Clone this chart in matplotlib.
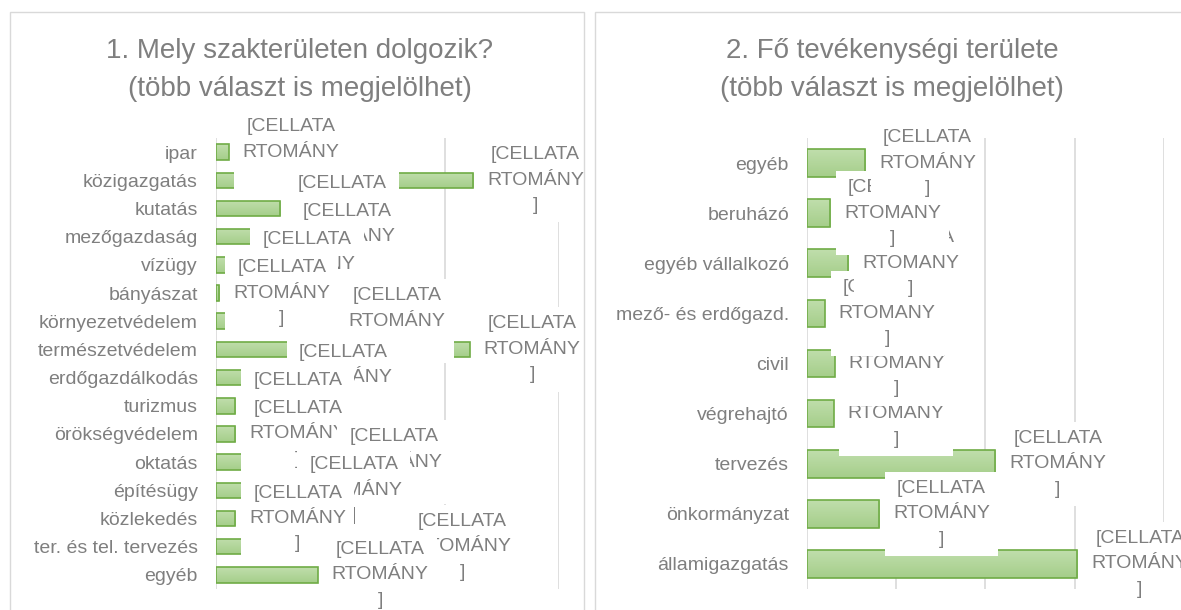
import matplotlib
matplotlib.use("Agg")
import matplotlib.pyplot as plt
from matplotlib.patches import Rectangle
from matplotlib.colors import LinearSegmentedColormap
import numpy as np

# 1. chart - categories from top to bottom (data order)
left_title = "1. Mely szakterületen dolgozik?\n(több választ is megjelölhet)"
left_cats = ["ipar", "közigazgatás", "kutatás", "mezőgazdaság", "vízügy",
             "bányászat", "környezetvédelem", "természetvédelem",
             "erdőgazdálkodás", "turizmus", "örökségvédelem", "oktatás",
             "építésügy", "közlekedés", "ter. és tel. tervezés", "egyéb"]
left_vals = [1.1, 22.5, 5.6, 6.0, 2.5, 0.3, 10.4, 22.2,
             5.7, 1.7, 1.7, 10.1, 6.6, 1.7, 16.1, 8.9]

# 2. chart - categories from bottom to top (data order)
right_title = "2. Fő tevékenységi területe\n(több választ is megjelölhet)"
right_cats = ["államigazgatás", "önkormányzat", "tervezés", "végrehajtó",
              "civil", "mező- és erdőgazd.", "egyéb vállalkozó", "beruházó",
              "egyéb"]
right_vals = [30.3, 8.1, 21.1, 3.0, 3.1, 2.0, 4.6, 2.6, 6.5]

# broken excel data label (cell range placeholder)
label_text = "[CELLATA\nRTOMÁNY\n]"

W, H = 1181, 610
GREY = "#7f7f7f"
GRID = "#d9d9d9"
BAR_H = 0.55
green = LinearSegmentedColormap.from_list("g", ["#c0deac", "#a5ce8a"])

plt.rcParams["font.family"] = ["Liberation Sans", "DejaVu Sans"]

fig = plt.figure(figsize=(W / 100, H / 100), dpi=100)


def px_axes(x0, y0, x1, y1):
    return fig.add_axes([x0 / W, 1 - y1 / H, (x1 - x0) / W, (y1 - y0) / H])


def draw_panel(ax, cats, vals, xmax, top_down):
    y = np.arange(len(cats))
    bars = ax.barh(y, vals, height=BAR_H, facecolor="none",
                   edgecolor="#6fac46", linewidth=1.2, zorder=3)
    # light vertical gradient fill like the excel bars
    grad = np.linspace(0, 1, 32).reshape(-1, 1)
    for b, yi, v in zip(bars, y, vals):
        top = yi - BAR_H / 2 if top_down else yi + BAR_H / 2
        bot = yi + BAR_H / 2 if top_down else yi - BAR_H / 2
        im = ax.imshow(grad, extent=(0, v, bot, top), cmap=green,
                       aspect="auto", origin="upper", zorder=2)
        im.set_clip_path(b)
    ax.set_yticks(y, cats)
    ax.set_xlim(0, xmax)
    ax.set_xticks(np.arange(0, xmax + 1, 10))
    ax.xaxis.grid(True, color=GRID, linewidth=1.2)
    ax.set_axisbelow(True)
    ax.tick_params(axis="x", length=0, labelbottom=False)
    ax.tick_params(axis="y", length=0, pad=13, labelsize=14, labelcolor=GREY)
    for s in ax.spines.values():
        s.set_visible(False)
    if top_down:
        ax.set_ylim(len(cats) - 0.5, -0.5)
    else:
        ax.set_ylim(-0.5, len(cats) - 0.5)
    # labels are drawn in data order, later ones cover earlier ones
    for yi, v in zip(y, vals):
        ax.annotate(label_text, xy=(v, yi), xytext=(10, 0),
                    textcoords="offset points", ha="left", va="center",
                    multialignment="center", fontsize=14, color=GREY,
                    linespacing=1.65, zorder=5,
                    bbox=dict(boxstyle="square,pad=0.42", fc="white", ec="none"))


ax1 = px_axes(216, 138, 559, 589)
draw_panel(ax1, left_cats, left_vals, 30, True)

ax2 = px_axes(807, 138, 1164, 589)
draw_panel(ax2, right_cats, right_vals, 40, False)

# chart frames
for x0, x1 in [(10, 584), (595, 1195)]:
    fig.add_artist(Rectangle((x0 / W, 1 - 625 / H), (x1 - x0) / W, 613 / H,
                             transform=fig.transFigure, fill=False,
                             edgecolor=GRID, linewidth=1))

fig.text(300 / W, 1 - 70 / H, left_title, ha="center", va="center",
         fontsize=20, color=GREY, linespacing=1.62)
fig.text(892 / W, 1 - 70 / H, right_title, ha="center", va="center",
         fontsize=20, color=GREY, linespacing=1.62)

fig.savefig("out.png", dpi=100)
